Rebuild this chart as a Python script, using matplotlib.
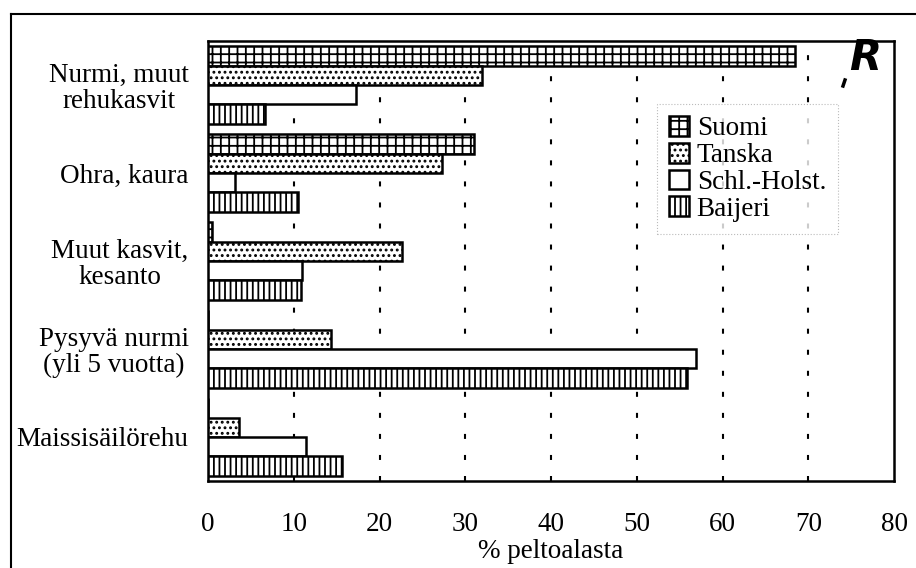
import matplotlib.pyplot as plt
from matplotlib.lines import Line2D
import numpy as np

plt.rcParams['font.family'] = ['Liberation Serif', 'DejaVu Serif']
plt.rcParams['hatch.linewidth'] = 1.3

# crop shares, % of arable land
categories = ['Nurmi, muut\nrehukasvit', 'Ohra, kaura', 'Muut kasvit,\nkesanto',
              'Pysyvä nurmi\n(yli 5 vuotta)', 'Maissisäilörehu']
suomi = [68.5, 31.0, 0.5, 0, 0]
tanska = [32.0, 27.3, 22.6, 14.3, 3.6]
schl_holst = [17.3, 3.2, 11.0, 56.9, 11.4]
baijeri = [6.6, 10.5, 10.9, 55.9, 15.6]
series_names = ['Suomi', 'Tanska', 'Schl.-Holst.', 'Baijeri']
x_ticks = [0, 10, 20, 30, 40, 50, 60, 70, 80]

FS = 19.5

fig = plt.figure(figsize=(9.16, 5.68), dpi=100)
ax = fig.add_axes([208/916, 1-481/568, 686/916, 440/568])

y = np.arange(len(categories))
h = 0.22
hatches = ['++', '...', '', '|||']
all_series = [suomi, tanska, schl_holst, baijeri]
for i, (vals, name, hat) in enumerate(zip(all_series, series_names, hatches)):
    ax.barh(y + (i - 1.5) * h, vals, height=h, color='white', edgecolor='black',
            linewidth=1.8, hatch=hat, label=name, zorder=3)

# dotted vertical grid
for xv in x_ticks[1:-1]:
    ax.axvline(xv, color='black', lw=1.5, linestyle=(0, (2.4, 7.7)), zorder=1)

ax.set_xlim(0, 80)
ax.set_ylim(len(categories) - 0.5, -0.5)
ax.set_xticks(x_ticks)
ax.set_yticks(y)
ax.set_yticklabels(categories, multialignment='center', linespacing=1.05)
ax.tick_params(axis='both', length=0, labelsize=FS)
ax.tick_params(axis='x', pad=22.5)
ax.tick_params(axis='y', pad=14)
ax.set_xlabel('% peltoalasta', fontsize=FS, labelpad=1)
for s in ax.spines.values():
    s.set_linewidth(1.8)

leg = ax.legend(loc='upper left', bbox_to_anchor=(0.654, 0.857), fontsize=FS,
                handlelength=0.75, handleheight=0.75, handletextpad=0.28,
                labelspacing=0.05, borderpad=0.45, borderaxespad=0,
                fancybox=False, frameon=True)
leg.get_frame().set_edgecolor('#aaaaaa')
leg.get_frame().set_linestyle(':')
leg.get_frame().set_linewidth(0.8)
for p in leg.get_patches():
    p.set_linewidth(1.8)

# logo in the corner
fig.text(0.945, 0.898, 'R', fontsize=30, fontweight='heavy', style='italic',
         family='DejaVu Sans', ha='center', va='center')
fig.add_artist(Line2D([843/916, 845/916], [1-86/568, 1-80/568], color='black', lw=2.5))

# page border
fig.add_artist(Line2D([11/916, 11/916], [0, 1-14/568], color='black', lw=1.5))
fig.add_artist(Line2D([11/916, 1], [1-14/568, 1-14/568], color='black', lw=1.5))

fig.savefig('out.png', dpi=100)
